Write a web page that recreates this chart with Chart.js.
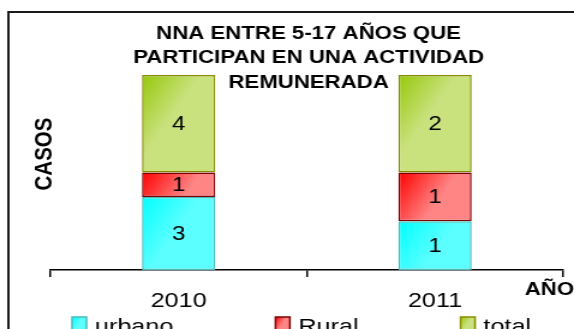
<!DOCTYPE html>
<html lang="es">
<head>
<meta charset="UTF-8">
<title>NNA entre 5-17 años - actividad remunerada</title>
<script src="https://cdn.jsdelivr.net/npm/chart.js"></script>
<style>
    body {
        margin: 0;
        padding: 0;
        background: #fff;
    }
    /* el lienzo se dibuja a 478px y se estira a 574px de ancho */
    #grafico {
        display: block;
        width: 574px;
        height: 329px;
    }
</style>
</head>
<body>
<canvas id="grafico" width="478" height="329" style="width:574px;height:329px"></canvas>
<script>
    const years = ['2010', '2011'];
    const urbano = [3, 1];
    const rural = [1, 1];
    const total = [4, 2];
    const seriesNames = ['urbano', 'Rural', 'total'];

    // barras al 100%: cada tramo es su parte del año
    const sums = years.map((_, i) => urbano[i] + rural[i] + total[i]);
    const toShare = arr => arr.map((v, i) => v / sums[i] * 100);
    const series = [urbano, rural, total];
    const shares = series.map(toShare);

    const BAR_PCT = 0.286;
    const colores = [
        { dark: '#00ffff', light: '#5cffff', border: '#45bcbc' },
        { dark: '#ff0000', light: '#ff8484', border: '#7a0000' },
        { dark: '#96c80a', light: '#c9e27e', border: '#8a8a00' }
    ];

    function gradiente(ctx2d, left, top, w, c) {
        const g = ctx2d.createLinearGradient(left, top, left + w * 0.6, top + w * 0.35);
        g.addColorStop(0, c.dark);
        g.addColorStop(1, c.light);
        return g;
    }

    function relleno(ds) {
        return (ctx) => {
            const chart = ctx.chart;
            const xs = chart.scales.x, ys = chart.scales.y;
            if (!chart.chartArea || !xs || !ys) return colores[ds].light;
            const w = xs.width / years.length * BAR_PCT;
            const left = xs.getPixelForValue(ctx.dataIndex) - w / 2;
            let acum = 0;
            for (let k = 0; k <= ds; k++) acum += shares[k][ctx.dataIndex];
            const top = ys.getPixelForValue(acum);
            return gradiente(chart.ctx, left, top, w, colores[ds]);
        };
    }

    // marco, titulos, etiquetas de valor y leyenda
    const textos = {
        id: 'textos',
        beforeDraw(chart) {
            const c = chart.ctx;
            c.save();
            c.strokeStyle = '#1a1a1a';
            c.lineWidth = 2;
            c.strokeRect(7, 12, 490, 340);
            c.restore();
        },
        afterDatasetsDraw(chart) {
            const c = chart.ctx;
            c.save();
            c.font = '20px "Liberation Sans", Arial, sans-serif';
            c.fillStyle = '#000';
            c.textAlign = 'center';
            c.textBaseline = 'middle';
            chart.data.datasets.forEach((ds, d) => {
                chart.getDatasetMeta(d).data.forEach((el, i) => {
                    c.fillText(String(series[d][i]), el.x, (el.y + el.base) / 2 + 1);
                });
            });
            c.restore();
        },
        afterDraw(chart) {
            const c = chart.ctx;
            c.save();
            c.fillStyle = '#000';
            c.textAlign = 'center';
            c.textBaseline = 'alphabetic';
            c.font = 'bold 18.5px "Liberation Sans", Arial, sans-serif';
            const titulo = ['NNA ENTRE 5-17 AÑOS QUE', 'PARTICIPAN EN UNA ACTIVIDAD', 'REMUNERADA'];
            titulo.forEach((t, i) => c.fillText(t, 257, 38.5 + i * 24.5));

            c.textAlign = 'left';
            c.fillText('AÑO', 437, 295);

            c.save();
            c.translate(43, 154);
            c.rotate(-Math.PI / 2);
            c.textAlign = 'center';
            c.font = 'bold 20.5px "Liberation Sans", Arial, sans-serif';
            c.fillText('CASOS', 0, 0);
            c.restore();

            // leyenda
            c.font = '21px "Liberation Sans", Arial, sans-serif';
            c.textAlign = 'left';
            let x = 60;
            seriesNames.forEach((name, d) => {
                const col = colores[d];
                c.fillStyle = gradiente(c, x, 317, 12, col);
                c.fillRect(x, 317, 12, 13);
                c.strokeStyle = col.border;
                c.lineWidth = 1.5;
                c.strokeRect(x, 317, 12, 13);
                c.fillStyle = '#000';
                c.fillText(name, x + 19, 333);
                x += 19 + c.measureText(name).width + 85;
            });
            c.restore();
        }
    };

    const ctx = document.getElementById('grafico').getContext('2d');
    new Chart(ctx, {
        type: 'bar',
        data: {
            labels: years,
            datasets: seriesNames.map((name, d) => ({
                label: name,
                data: shares[d],
                backgroundColor: relleno(d),
                borderColor: colores[d].border,
                borderWidth: 1.5,
                borderSkipped: false,
                categoryPercentage: 1,
                barPercentage: BAR_PCT
            }))
        },
        options: {
            responsive: false,
            animation: false,
            devicePixelRatio: 1,
            layout: {
                padding: { top: 75, left: 42, right: 9, bottom: 15 }
            },
            scales: {
                x: {
                    stacked: true,
                    grid: {
                        drawOnChartArea: false,
                        drawTicks: true,
                        tickLength: 7,
                        color: '#000',
                        lineWidth: 1.5
                    },
                    border: { display: true, color: '#000', width: 1.5 },
                    ticks: {
                        color: '#000',
                        padding: 12,
                        font: { family: '"Liberation Sans", Arial, sans-serif', size: 21 }
                    },
                    afterFit(scale) { scale.height = 44; }
                },
                y: {
                    stacked: true,
                    display: false,
                    min: 0,
                    max: 100
                }
            },
            plugins: {
                legend: { display: false },
                tooltip: { enabled: false },
                title: { display: false }
            }
        },
        plugins: [textos]
    });
</script>
</body>
</html>
